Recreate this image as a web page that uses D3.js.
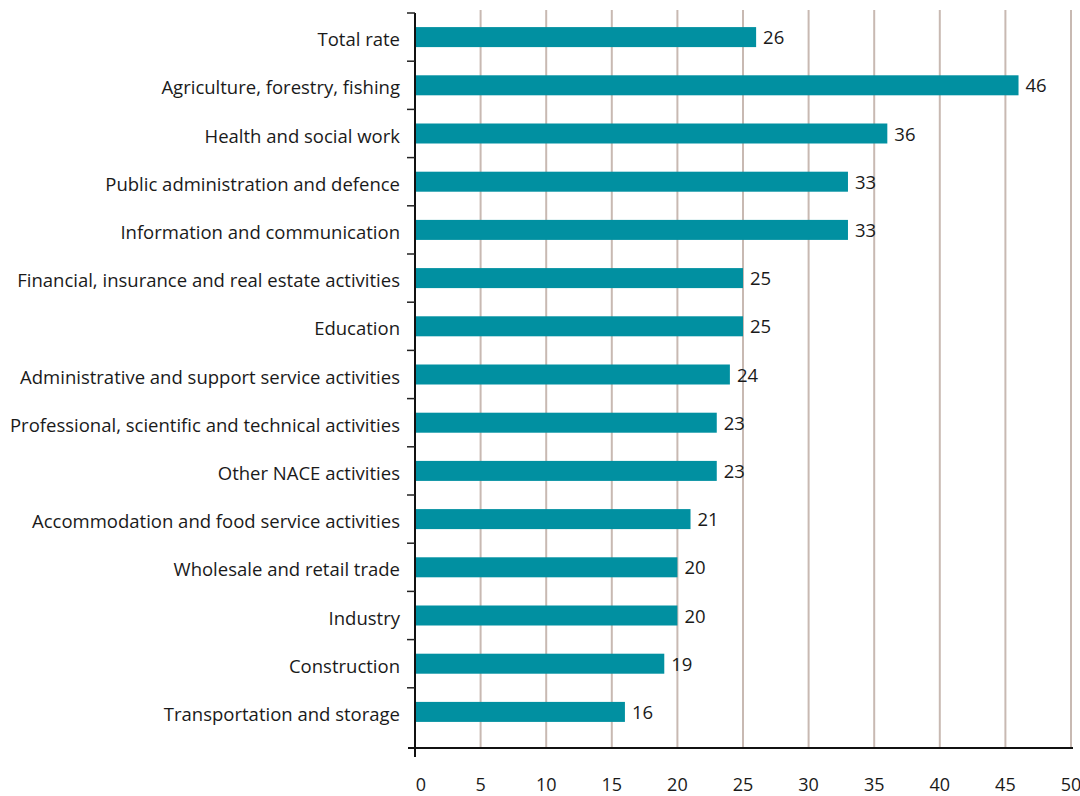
<!DOCTYPE html>
<html>
<head>
<meta charset="utf-8">
<script src="https://cdn.jsdelivr.net/npm/d3@7"></script>
<style>
  html, body { margin: 0; padding: 0; background: #fff; }
  svg { display: block; }
  text { font-family: "Open Sans", "Noto Sans", sans-serif; fill: #1a1a1a; }
</style>
</head>
<body>
<svg id="chart" width="1080" height="796"></svg>
<script>
// Sectors, top to bottom
const categories = [
  "Total rate",
  "Agriculture, forestry, fishing",
  "Health and social work",
  "Public administration and defence",
  "Information and communication",
  "Financial, insurance and real estate activities",
  "Education",
  "Administrative and support service activities",
  "Professional, scientific and technical activities",
  "Other NACE activities",
  "Accommodation and food service activities",
  "Wholesale and retail trade",
  "Industry",
  "Construction",
  "Transportation and storage"
];
// Rate per sector
const values = [26, 46, 36, 33, 33, 25, 25, 24, 23, 23, 21, 20, 20, 19, 16];
// Horizontal axis ticks
const xTicks = [0, 5, 10, 15, 20, 25, 30, 35, 40, 45, 50];

const svg = d3.select("#chart");
const plotLeft = 415, plotRight = 1071, plotTop = 13, bandBottom = 736, axisY = 748;

const x = d3.scaleLinear().domain([0, 50]).range([plotLeft, plotRight]);
const y = d3.scaleBand().domain(categories).range([plotTop, bandBottom])
  .paddingInner(0.585).paddingOuter(0.2925);

// Vertical grid lines
svg.append("g").selectAll("line")
  .data(xTicks.filter(d => d > 0))
  .join("line")
  .attr("x1", d => x(d)).attr("x2", d => x(d))
  .attr("y1", 10).attr("y2", axisY)
  .attr("stroke", "#c8b9b2").attr("stroke-width", 2);

// Bars
svg.append("g").selectAll("rect")
  .data(values)
  .join("rect")
  .attr("x", x(0))
  .attr("y", (d, i) => y(categories[i]))
  .attr("width", d => x(d) - x(0))
  .attr("height", y.bandwidth())
  .attr("fill", "#0190a1");

// Value labels
svg.append("g").selectAll("text")
  .data(values)
  .join("text")
  .attr("x", d => x(d) + 7)
  .attr("y", (d, i) => y(categories[i]) + y.bandwidth() / 2 + 7)
  .attr("font-size", 18.5)
  .text(d => d);

// Category labels
svg.append("g").selectAll("text")
  .data(categories)
  .join("text")
  .attr("x", 400)
  .attr("y", d => y(d) + y.bandwidth() / 2 + 9)
  .attr("text-anchor", "end")
  .attr("font-size", 18.5)
  .text(d => d);

// Vertical axis with ticks at band boundaries
const step = y.step();
const boundaries = d3.range(categories.length).map(i => plotTop + i * step);
svg.append("line")
  .attr("x1", plotLeft).attr("x2", plotLeft)
  .attr("y1", plotTop).attr("y2", axisY + 9)
  .attr("stroke", "#111").attr("stroke-width", 2);
svg.append("g").selectAll("line")
  .data(boundaries)
  .join("line")
  .attr("x1", plotLeft - 8).attr("x2", plotLeft)
  .attr("y1", d => d).attr("y2", d => d)
  .attr("stroke", "#222").attr("stroke-width", 1.5);

// Horizontal axis
svg.append("line")
  .attr("x1", plotLeft - 7).attr("x2", plotRight + 2)
  .attr("y1", axisY).attr("y2", axisY)
  .attr("stroke", "#111").attr("stroke-width", 2);

svg.append("g").selectAll("text")
  .data(xTicks)
  .join("text")
  .attr("x", d => x(d) + (d === 0 ? 6 : 0))
  .attr("y", 791)
  .attr("text-anchor", "middle")
  .attr("font-size", 18)
  .text(d => d);
</script>
</body>
</html>
